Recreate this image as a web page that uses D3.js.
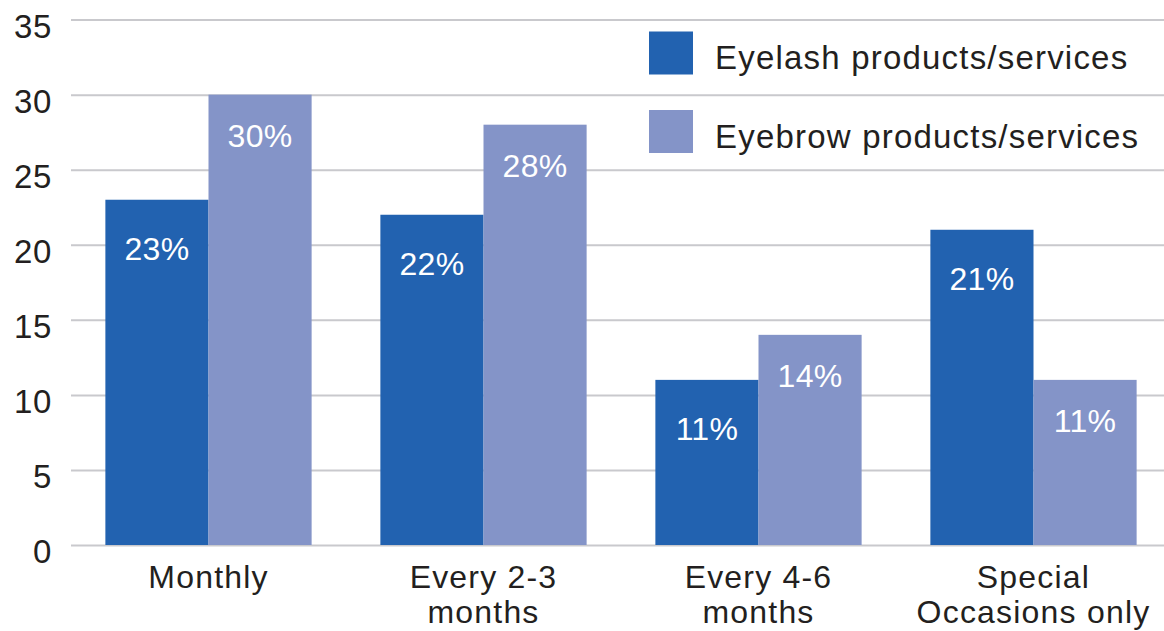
<!DOCTYPE html>
<html>
<head>
<meta charset="utf-8">
<script src="https://cdn.jsdelivr.net/npm/d3@7"></script>
<style>
  html, body { margin: 0; padding: 0; background: #ffffff; }
  svg { display: block; }
  text { font-family: "Liberation Sans", Arial, sans-serif; fill: #231f20; }
</style>
</head>
<body>
<svg id="chart" width="1164" height="631"></svg>
<script>
const categories = ["Monthly", "Every 2-3\nmonths", "Every 4-6\nmonths", "Special\nOccasions only"];
const seriesNames = ["Eyelash products/services", "Eyebrow products/services"];
const eyelashValues = [23, 22, 11, 21];
const eyebrowValues = [30, 28, 14, 11];
const yTicks = [0, 5, 10, 15, 20, 25, 30, 35];
const seriesColors = ["#2262b0", "#8494c8"];

const W = 1164, H = 631;
const svg = d3.select("#chart");

const x = d3.scaleBand().domain(categories).range([71, 1171]).paddingInner(0.25).paddingOuter(0.125);
const xs = d3.scaleBand().domain(seriesNames).range([0, x.bandwidth()]).padding(0);
const y = d3.scaleLinear().domain([0, 35]).range([545, 19.6]);

// gridlines + y tick labels via axis
const yAxis = d3.axisLeft(y).tickValues(yTicks).tickSize(-(W - 71)).tickPadding(19);
const gy = svg.append("g").attr("transform", "translate(71,0)").call(yAxis);
gy.select(".domain").remove();
gy.selectAll(".tick line").attr("stroke", "#c9c9cd").attr("stroke-width", 2);
gy.selectAll(".tick text")
  .attr("font-size", 33).attr("letter-spacing", 0.6)
  .attr("fill", "#231f20").attr("dy", null).attr("y", 17.5)
  .style("font-family", '"Liberation Sans", Arial, sans-serif');

const data = categories.map((c, i) => ({ cat: c, vals: [eyelashValues[i], eyebrowValues[i]] }));
const labelOffset = [60, 52];

const groups = svg.append("g").selectAll("g").data(data).join("g")
  .attr("transform", d => `translate(${x(d.cat)},0)`);

groups.selectAll("rect").data(d => d.vals.map((v, k) => ({ v, k })))
  .join("rect")
  .attr("x", d => xs(seriesNames[d.k]))
  .attr("width", xs.bandwidth())
  .attr("y", d => y(d.v))
  .attr("height", d => y(0) - y(d.v))
  .attr("fill", d => seriesColors[d.k]);

groups.selectAll("text.val").data(d => d.vals.map((v, k) => ({ v, k })))
  .join("text")
  .attr("class", "val")
  .attr("x", d => xs(seriesNames[d.k]) + xs.bandwidth() / 2)
  .attr("y", d => y(d.v) + labelOffset[d.k])
  .attr("text-anchor", "middle")
  .attr("font-size", 32).attr("letter-spacing", 0.3)
  .style("fill", "#ffffff")
  .text(d => d.v + "%");

// x axis labels
const xAxis = d3.axisBottom(x).tickSize(0).tickFormat("");
const gx = svg.append("g").attr("transform", "translate(0,545)").call(xAxis);
gx.select(".domain").remove();
gx.selectAll(".tick").each(function (d) {
  const t = d3.select(this).append("text")
    .attr("text-anchor", "middle")
    .attr("font-size", 32).attr("letter-spacing", 1.2)
    .style("fill", "#231f20");
  d.split("\n").forEach((line, i) => {
    t.append("tspan").attr("x", 0).attr("y", 43 + i * 35).text(line);
  });
});

// legend
const legend = svg.append("g").selectAll("g").data(seriesNames).join("g")
  .attr("transform", (d, i) => `translate(649,${31.5 + i * 78.5})`);
legend.append("rect").attr("width", 44).attr("height", 43).attr("fill", (d, i) => seriesColors[i]);
legend.append("text").attr("x", 66).attr("y", 37.5)
  .attr("font-size", 33).attr("letter-spacing", 1.2)
  .text(d => d);
</script>
</body>
</html>
